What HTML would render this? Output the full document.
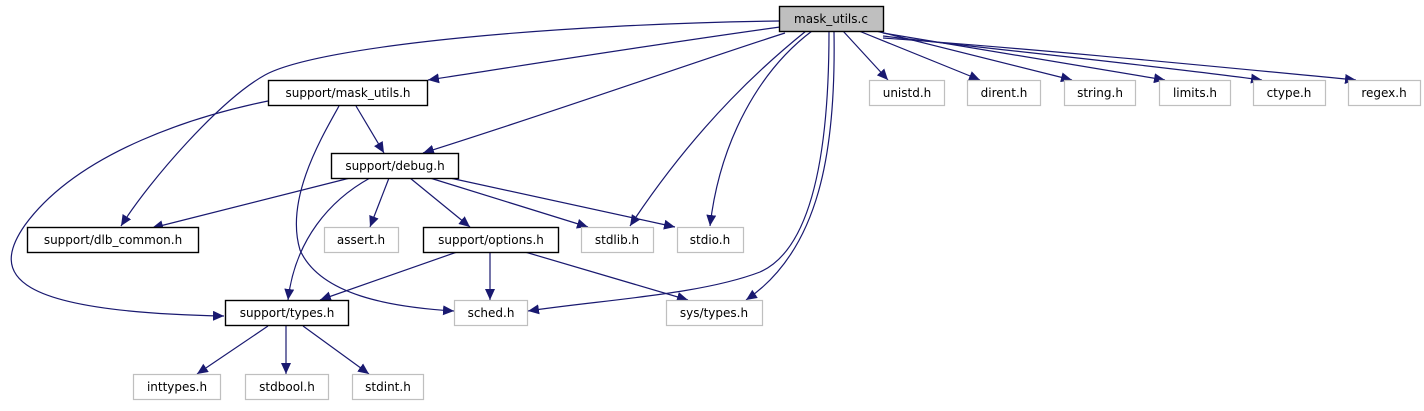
<!DOCTYPE html>
<html><head><meta charset="utf-8"><style>
html,body{margin:0;padding:0;background:#fff;}
svg{display:block;}
text{font-family:"DejaVu Sans","Liberation Sans",sans-serif;font-size:12px;fill:#000;}
</style></head><body>
<svg width="1424" height="411" viewBox="0 0 1424 411" xmlns="http://www.w3.org/2000/svg">
<defs>
<marker id="a" markerUnits="userSpaceOnUse" markerWidth="12" markerHeight="10" refX="11" refY="5" orient="auto">
<path d="M0,0 L11,5 L0,10 Z" fill="#191970"/>
</marker>
</defs>
<g fill="none" stroke="#191970" stroke-width="1.2" marker-end="url(#a)">
<path d="M779,21 C560,24 320,45 265,75 C220,100 150,180 121,226"/>
<path d="M780,27 C650,45 520,66 428,80"/>
<path d="M785,33 C700,60 560,110 423,153"/>
<path d="M806,31 C770,60 700,120 630,226"/>
<path d="M812,31 C760,70 720,140 710,226"/>
<path d="M829,32 C829,160 810,250 760,272 C700,295 600,300 528,311"/>
<path d="M834,32 C836,150 820,250 746,300"/>
<path d="M843,31 L888,80"/>
<path d="M859,31 L980,80"/>
<path d="M876,31 L1072,80"/>
<path d="M883,33 L1165,80"/>
<path d="M883,36 C1000,50 1150,65 1262,80"/>
<path d="M883,38 C1050,50 1250,70 1356,80"/>
<path d="M268,101 C200,115 80,150 25,225 C-10,275 10,312 224,316"/>
<path d="M339,106 C320,140 285,200 300,250 C320,295 390,307 454,311"/>
<path d="M356,106 L384,153"/>
<path d="M350,178 L152,228"/>
<path d="M370,178 C330,200 295,240 288,300"/>
<path d="M389,178 L370,227"/>
<path d="M410,178 L470,227"/>
<path d="M430,178 L588,227"/>
<path d="M450,178 L675,227"/>
<path d="M457,252 L320,300"/>
<path d="M490,252 L490,300"/>
<path d="M525,252 L688,300"/>
<path d="M268,326 L197,374"/>
<path d="M286,326 L286,374"/>
<path d="M303,326 L369,374"/>
</g>
<g stroke-width="1.4">
<rect x="779.5" y="6.5" width="104" height="25" fill="#bfbfbf" stroke="#000"/>
<rect x="268.5" y="80.5" width="159" height="25" fill="#fff" stroke="#000"/>
<rect x="331.5" y="153.5" width="127" height="25" fill="#fff" stroke="#000"/>
<rect x="27.5" y="227.5" width="171" height="25" fill="#fff" stroke="#000"/>
<rect x="423.5" y="227.5" width="135" height="25" fill="#fff" stroke="#000"/>
<rect x="225.5" y="300.5" width="123" height="25" fill="#fff" stroke="#000"/>
</g>
<g fill="#fff" stroke="#bfbfbf" stroke-width="1.2">
<rect x="324.5" y="227.5" width="74" height="25"/>
<rect x="581.5" y="227.5" width="72" height="25"/>
<rect x="677.5" y="227.5" width="66" height="25"/>
<rect x="454.5" y="300.5" width="73" height="25"/>
<rect x="666.5" y="300.5" width="96" height="25"/>
<rect x="133.5" y="374.5" width="87" height="25"/>
<rect x="245.5" y="374.5" width="83" height="25"/>
<rect x="352.5" y="374.5" width="71" height="25"/>
<rect x="869.5" y="80.5" width="75" height="25"/>
<rect x="967.5" y="80.5" width="73" height="25"/>
<rect x="1064.5" y="80.5" width="71" height="25"/>
<rect x="1159.5" y="80.5" width="71" height="25"/>
<rect x="1253.5" y="80.5" width="72" height="25"/>
<rect x="1348.5" y="80.5" width="72" height="25"/>
</g>
<g text-anchor="middle">
<text x="831" y="23">mask_utils.c</text>
<text x="348" y="97">support/mask_utils.h</text>
<text x="395" y="170">support/debug.h</text>
<text x="113" y="244">support/dlb_common.h</text>
<text x="361" y="244">assert.h</text>
<text x="491" y="244">support/options.h</text>
<text x="617" y="244">stdlib.h</text>
<text x="710" y="244">stdio.h</text>
<text x="287" y="317">support/types.h</text>
<text x="491" y="317">sched.h</text>
<text x="714" y="317">sys/types.h</text>
<text x="177" y="391">inttypes.h</text>
<text x="287" y="391">stdbool.h</text>
<text x="388" y="391">stdint.h</text>
<text x="907" y="97">unistd.h</text>
<text x="1004" y="97">dirent.h</text>
<text x="1100" y="97">string.h</text>
<text x="1195" y="97">limits.h</text>
<text x="1289" y="97">ctype.h</text>
<text x="1384" y="97">regex.h</text>
</g>
</svg>
</body></html>
